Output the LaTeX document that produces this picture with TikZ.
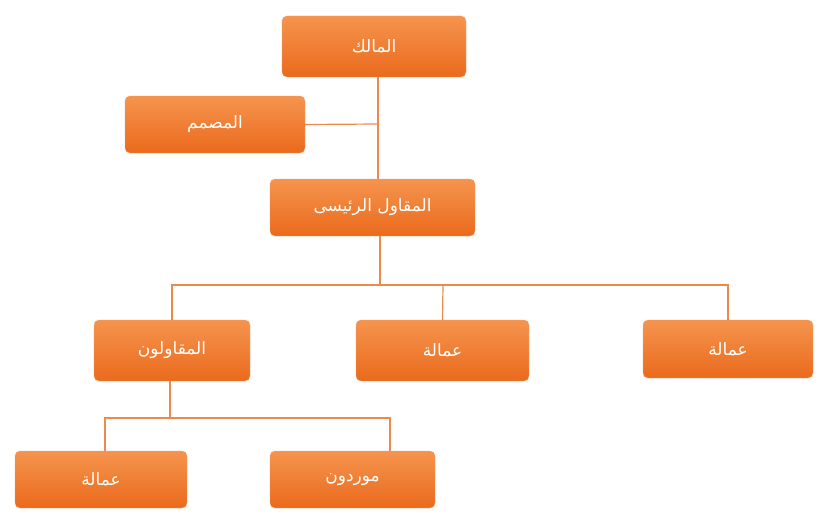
\documentclass[tikz,border=0pt]{standalone}
\usepackage{fontspec}
\newfontfamily\arabicfont[Script=Arabic]{DejaVu Sans}
\TeXXeTstate=1
\definecolor{boxtop}{HTML}{F5944E}
\definecolor{boxbot}{HTML}{EA6A1C}
\definecolor{boxline}{HTML}{F2A070}
\definecolor{linkline}{HTML}{EC8A4E}
\tikzset{
  post/.style={rectangle,rounded corners=5pt,draw=boxline,thin,
    top color=boxtop,bottom color=boxbot,text=white,
    font=\arabicfont\fontsize{17}{20}\selectfont,inner sep=0pt},
  link/.style={draw=linkline,line width=1.2pt}
}
\newcommand{\rtltext}[1]{\beginR #1\endR}
\begin{document}
\begin{tikzpicture}[x=1pt,y=-1pt]
  \useasboundingbox (0,0) rectangle (832,527);

  \node[post,minimum width=184,minimum height=61] (owner) at (374,46.5) {\rtltext{المالك}};
  \node[post,minimum width=180,minimum height=57] (designer) at (215,124.5) {\rtltext{المصمم}};
  \node[post,minimum width=205,minimum height=57] (main) at (372.5,207.5) {\rtltext{المقاول الرئيسى}};
  \node[post,minimum width=156,minimum height=61] (subs) at (172,350.5) {\rtltext{المقاولون}};
  \node[post,minimum width=173,minimum height=61] (labmid) at (442.5,350.5) {\rtltext{عمالة}};
  \node[post,minimum width=170,minimum height=58] (labright) at (728,349) {\rtltext{عمالة}};
  \node[post,minimum width=172,minimum height=57] (lableft) at (101,479.5) {\rtltext{عمالة}};
  \node[post,minimum width=165,minimum height=57] (suppl) at (352.5,479.5) {\rtltext{موردون}};

  % owner -> main, designer joins halfway
  \coordinate (join) at (378,124);
  \draw[link] (378,77) -- (378,179);
  \draw[link] (designer.east) -- (join);

  % main -> second row
  \coordinate (bus) at (380,285);
  \draw[link] (380,236) -- (bus);
  \draw[link] (subs.north) |- (bus);
  \draw[link] (labright.north) |- (bus);
  \draw[link] (labmid.north) -- (443,285);

  % subs -> third row
  \coordinate (bus2) at (170,418);
  \draw[link] (170,381) -- (bus2);
  \draw[link] (105,451) |- (bus2);
  \draw[link] (390,451) |- (bus2);
\end{tikzpicture}
\end{document}
